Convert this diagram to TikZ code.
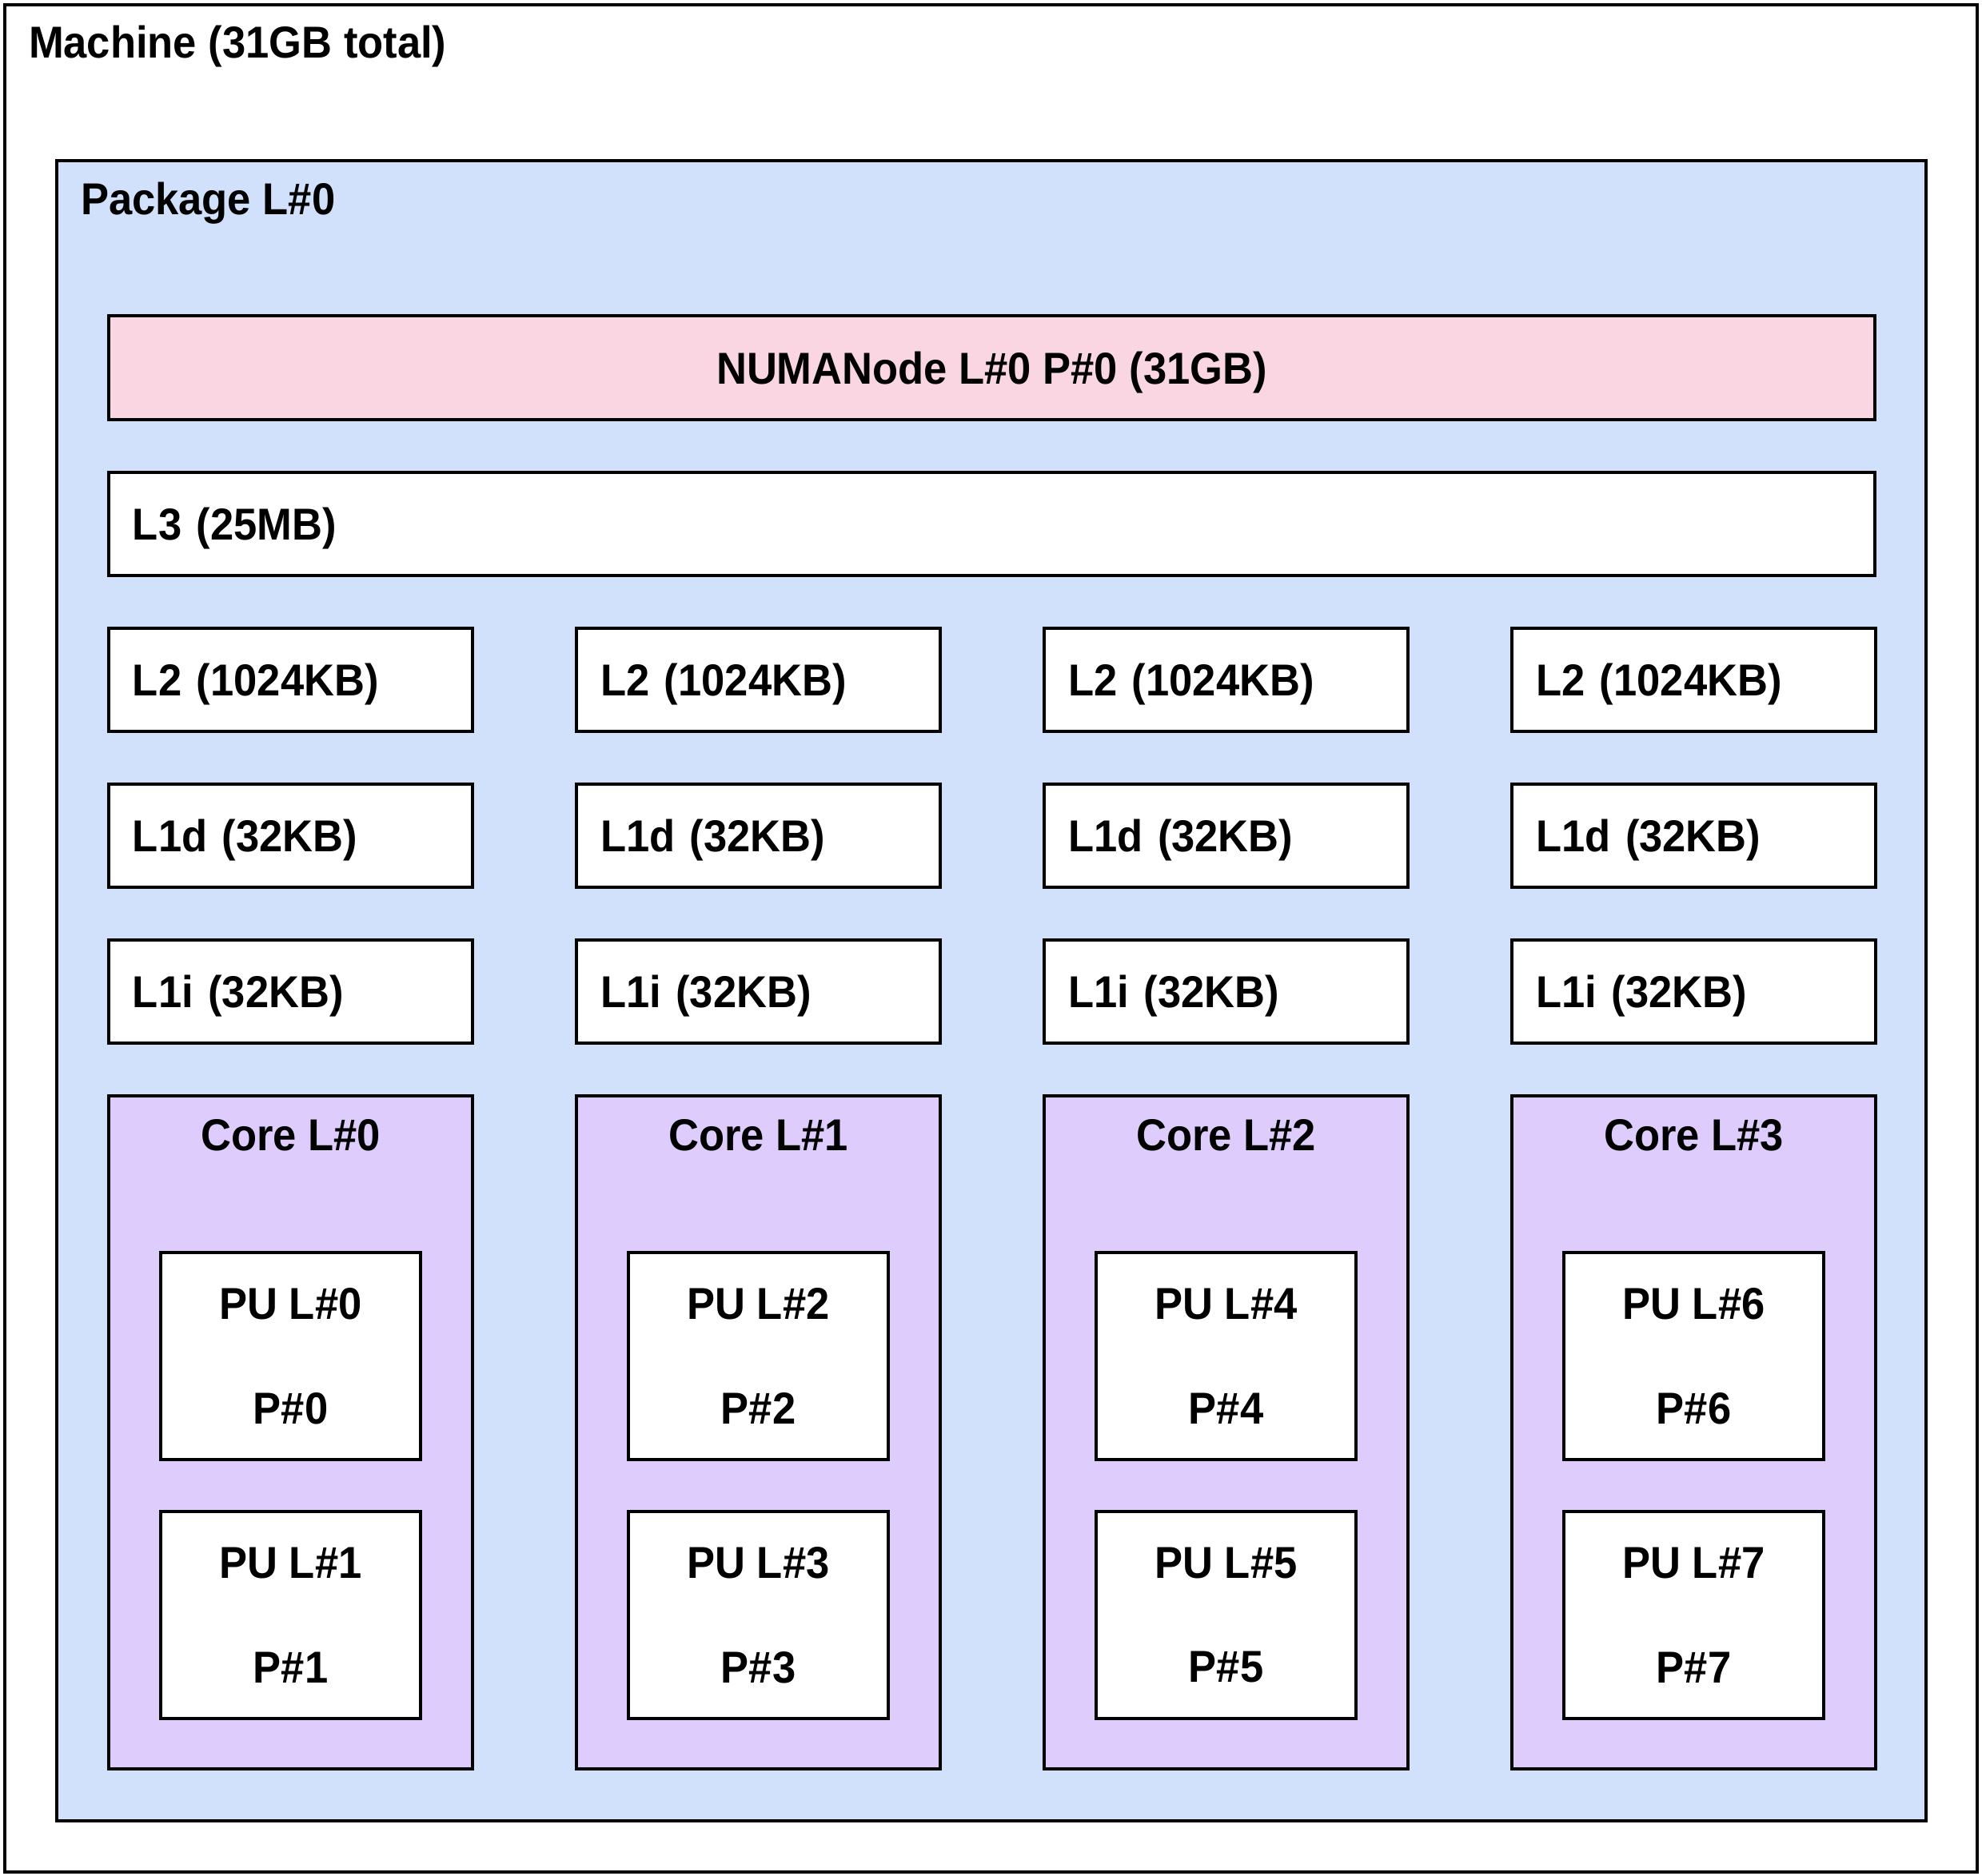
\documentclass[tikz,border=0pt]{standalone}
\usepackage{fontspec}
\setmainfont{Liberation Sans}[FakeStretch=0.94]
\usetikzlibrary{positioning}
\definecolor{pkgblue}{HTML}{D1E1FB}
\definecolor{numapink}{HTML}{F9D6E2}
\definecolor{corelilac}{HTML}{DDCCFC}
\tikzstyle{hwbox} = [rectangle, draw=black, line width=1.3pt, outer sep=0pt, inner sep=0pt, font=\fontsize{15.9}{19}\selectfont\bfseries]
\tikzstyle{machineclass} = [hwbox, fill=white, minimum width=24.67cm, minimum height=23.36cm]
\tikzstyle{packageclass} = [hwbox, fill=pkgblue, minimum width=23.38cm, minimum height=20.77cm]
\tikzstyle{numaclass} = [hwbox, fill=numapink, minimum width=22.09cm, minimum height=1.30cm, text height=0.40cm, text depth=0pt]
\tikzstyle{cacheclass} = [hwbox, fill=white, minimum width=4.55cm, minimum height=1.29cm, text width=3.95cm, inner xsep=0.30cm, align=left, text height=0.40cm, text depth=0pt]
\tikzstyle{l3class} = [cacheclass, minimum width=22.09cm, text width=21.49cm]
\tikzstyle{coreclass} = [hwbox, fill=corelilac, minimum width=4.55cm, minimum height=8.42cm]
\tikzstyle{puclass} = [hwbox, fill=white, minimum width=3.25cm, minimum height=2.59cm, align=center, font=\fontsize{15.9}{37.25}\selectfont\bfseries]
\tikzstyle{boxtitle} = [inner sep=0pt, outer sep=0pt, font=\fontsize{15.9}{19}\selectfont\bfseries]

\begin{document}
\begin{tikzpicture}
	\useasboundingbox (0,0) rectangle (24.79,-23.46);
	\node (mach) [machineclass, anchor=north west] at (0.06,-0.06) {};
	\node (mtitle) [boxtitle, anchor=base west] at ([xshift=0.30cm, yshift=-0.66cm]mach.north west) {Machine (31GB total)};
	\node (pkg) [packageclass, below right=1.95cm and 0.65cm of mach.north west] {};
	\node (ptitle) [boxtitle, anchor=base west] at ([xshift=0.30cm, yshift=-0.67cm]pkg.north west) {Package L\#0};
	\node (numa) [numaclass, below right=1.94cm and 0.65cm of pkg.north west] {NUMANode L\#0 P\#0 (31GB)};
	\node (lthree) [l3class, below=0.66cm of numa] {L3 (25MB)};
	% L2 caches
	\node (ltwoa) [cacheclass, below right=0.66cm and 0cm of lthree.south west] {L2 (1024KB)};
	\node (ltwob) [cacheclass, right=1.30cm of ltwoa] {L2 (1024KB)};
	\node (ltwoc) [cacheclass, right=1.30cm of ltwob] {L2 (1024KB)};
	\node (ltwod) [cacheclass, right=1.30cm of ltwoc] {L2 (1024KB)};
	% L1 data caches
	\node (ldataa) [cacheclass, below=0.66cm of ltwoa] {L1d (32KB)};
	\node (ldatab) [cacheclass, below=0.66cm of ltwob] {L1d (32KB)};
	\node (ldatac) [cacheclass, below=0.66cm of ltwoc] {L1d (32KB)};
	\node (ldatad) [cacheclass, below=0.66cm of ltwod] {L1d (32KB)};
	% L1 instruction caches
	\node (linsta) [cacheclass, below=0.66cm of ldataa] {L1i (32KB)};
	\node (linstb) [cacheclass, below=0.66cm of ldatab] {L1i (32KB)};
	\node (linstc) [cacheclass, below=0.66cm of ldatac] {L1i (32KB)};
	\node (linstd) [cacheclass, below=0.66cm of ldatad] {L1i (32KB)};
	% cores
	\node (corea) [coreclass, below=0.66cm of linsta] {};
	\node (coreb) [coreclass, below=0.66cm of linstb] {};
	\node (corec) [coreclass, below=0.66cm of linstc] {};
	\node (cored) [coreclass, below=0.66cm of linstd] {};
	\node (ctitlea) [boxtitle, anchor=base] at ([yshift=-0.68cm]corea.north) {Core L\#0};
	\node (ctitleb) [boxtitle, anchor=base] at ([yshift=-0.68cm]coreb.north) {Core L\#1};
	\node (ctitlec) [boxtitle, anchor=base] at ([yshift=-0.68cm]corec.north) {Core L\#2};
	\node (ctitled) [boxtitle, anchor=base] at ([yshift=-0.68cm]cored.north) {Core L\#3};
	% processing units
	\node (puzero) [puclass, below=1.96cm of corea.north] {PU L\#0\\P\#0};
	\node (puone) [puclass, below=0.65cm of puzero] {PU L\#1\\P\#1};
	\node (putwo) [puclass, below=1.96cm of coreb.north] {PU L\#2\\P\#2};
	\node (puthree) [puclass, below=0.65cm of putwo] {PU L\#3\\P\#3};
	\node (pufour) [puclass, below=1.96cm of corec.north] {PU L\#4\\P\#4};
	\node (pufive) [puclass, below=0.65cm of pufour] {PU L\#5\\P\#5};
	\node (pusix) [puclass, below=1.96cm of cored.north] {PU L\#6\\P\#6};
	\node (puseven) [puclass, below=0.65cm of pusix] {PU L\#7\\P\#7};
\end{tikzpicture}
\end{document}
